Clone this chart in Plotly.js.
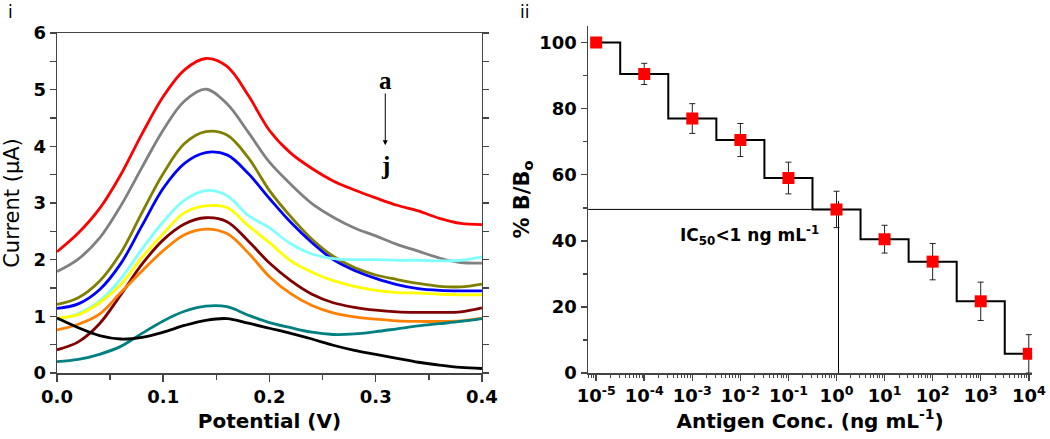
<!DOCTYPE html>
<html>
<head>
<meta charset="utf-8">
<script src="https://cdn.plot.ly/plotly-3.0.1.min.js"></script>
<style>
  html, body { margin: 0; padding: 0; background: #fff; }
  #graph { width: 1050px; height: 439px; }
</style>
</head>
<body>
<div id="graph"></div>
<script>
// panel i : DPV curves a..j
var potential = [0, 0.02, 0.04, 0.06, 0.08, 0.10, 0.12, 0.14, 0.16, 0.18, 0.20,
                 0.22, 0.24, 0.26, 0.28, 0.30, 0.32, 0.34, 0.36, 0.38, 0.40];
var curveA = [2.14, 2.47, 2.90, 3.50, 4.22, 4.88, 5.35, 5.55, 5.41, 4.90, 4.28, 3.88, 3.61, 3.39, 3.23, 3.09, 2.96, 2.86, 2.73, 2.64, 2.62];
var curveB = [1.79, 2.01, 2.38, 2.95, 3.63, 4.29, 4.80, 5.01, 4.75, 4.25, 3.72, 3.33, 2.99, 2.75, 2.56, 2.42, 2.27, 2.15, 2.03, 1.95, 1.94];
var curveC = [1.21, 1.33, 1.62, 2.12, 2.83, 3.52, 4.05, 4.26, 4.20, 3.80, 3.22, 2.76, 2.36, 2.06, 1.86, 1.73, 1.65, 1.58, 1.53, 1.52, 1.57];
var curveD = [1.14, 1.22, 1.47, 1.93, 2.60, 3.26, 3.70, 3.89, 3.85, 3.52, 3.08, 2.66, 2.30, 2.00, 1.81, 1.67, 1.56, 1.49, 1.46, 1.45, 1.45];
var curveE = [0.94, 1.05, 1.27, 1.66, 2.19, 2.67, 3.05, 3.22, 3.13, 2.78, 2.56, 2.28, 2.10, 2.02, 2.00, 2.00, 1.99, 1.99, 1.98, 1.99, 2.05];
var curveF = [0.97, 1.03, 1.24, 1.56, 2.04, 2.46, 2.83, 2.95, 2.92, 2.60, 2.30, 1.98, 1.78, 1.63, 1.53, 1.46, 1.42, 1.41, 1.39, 1.38, 1.38];
var curveG = [0.41, 0.55, 0.87, 1.38, 1.92, 2.35, 2.63, 2.74, 2.67, 2.33, 1.94, 1.63, 1.39, 1.24, 1.16, 1.11, 1.08, 1.07, 1.07, 1.08, 1.15];
var curveH = [0.76, 0.86, 1.04, 1.42, 1.80, 2.16, 2.44, 2.54, 2.46, 2.12, 1.70, 1.40, 1.19, 1.06, 0.99, 0.95, 0.92, 0.91, 0.91, 0.92, 0.97];
var curveI = [0.20, 0.24, 0.33, 0.47, 0.70, 0.92, 1.09, 1.18, 1.17, 1.02, 0.89, 0.80, 0.72, 0.68, 0.69, 0.73, 0.78, 0.83, 0.87, 0.91, 0.96];
var curveJ = [0.97, 0.80, 0.66, 0.60, 0.63, 0.72, 0.84, 0.93, 0.96, 0.88, 0.79, 0.70, 0.60, 0.49, 0.40, 0.33, 0.26, 0.19, 0.14, 0.10, 0.08];
var curves = [curveA, curveB, curveC, curveD, curveE, curveF, curveG, curveH, curveI, curveJ];
var curveColors = ['#ff0000', '#808080', '#808000', '#0000ff', '#80ffff',
                   '#ffff00', '#800000', '#ff8000', '#008080', '#000000'];

// panel ii : competitive assay
var conc = [1e-5, 1e-4, 1e-3, 1e-2, 1e-1, 1, 10, 100, 1000, 10000];
var pctB = [100, 90.5, 77, 70.5, 59, 49.5, 40.5, 33.7, 21.7, 5.8];
var pctErr = [0, 3.2, 4.5, 5, 4.8, 5.5, 4.2, 5.5, 5.8, 5.8];
var concTicks = [1e-5, 1e-4, 1e-3, 1e-2, 1e-1, 1, 10, 100, 1000, 10000];
var concLabels = ['10<sup>-5</sup>', '10<sup>-4</sup>', '10<sup>-3</sup>', '10<sup>-2</sup>', '10<sup>-1</sup>',
                  '10<sup>0</sup>', '10<sup>1</sup>', '10<sup>2</sup>', '10<sup>3</sup>', '10<sup>4</sup>'];
var ic50X = [6.8e-6, 1.1];
var ic50Y = [49.5, 49.5];
var ic50VX = [1.1, 1.1];
var ic50VY = [52, 0];

var FONT = 'DejaVu Sans';
var boldTick = {family: FONT, size: 18, color: '#000', weight: 'bold'};

var data = [];
for (var k = 0; k < curves.length; k++) {
  data.push({
    x: potential, y: curves[k], type: 'scatter', mode: 'lines',
    line: {color: curveColors[k], width: 2.8, shape: 'spline', smoothing: 1},
    xaxis: 'x', yaxis: 'y', hoverinfo: 'skip'
  });
}

data.push({
  x: ic50X, y: ic50Y, type: 'scatter', mode: 'lines',
  line: {color: '#000', width: 1}, xaxis: 'x2', yaxis: 'y2'
});
data.push({
  x: ic50VX, y: ic50VY, type: 'scatter', mode: 'lines',
  line: {color: '#000', width: 1}, xaxis: 'x2', yaxis: 'y2'
});
data.push({
  x: conc, y: pctB, type: 'scatter', mode: 'lines',
  line: {color: '#000', width: 2, shape: 'hvh'}, xaxis: 'x2', yaxis: 'y2'
});
data.push({
  x: conc, y: pctB, type: 'scatter', mode: 'markers',
  marker: {color: '#ff0000', size: 12, symbol: 'square'},
  error_y: {type: 'data', array: pctErr, visible: true, color: '#222', thickness: 1, width: 3},
  xaxis: 'x2', yaxis: 'y2'
});

var layout = {
  width: 1050, height: 439,
  margin: {l: 0, r: 0, t: 0, b: 0},
  paper_bgcolor: '#fff', plot_bgcolor: '#fff',
  showlegend: false,
  font: {family: FONT, color: '#000'},
  xaxis: {
    domain: [0.0543, 0.459], range: [0, 0.4],
    dtick: 0.1, tickformat: '.1f', ticks: 'outside', ticklen: 7, tickwidth: 1.5,
    minor: {dtick: 0.05, ticks: 'outside', ticklen: 5, tickwidth: 1.5},
    showline: true, linecolor: '#444', linewidth: 1.5, mirror: true,
    showgrid: false, zeroline: false, tickfont: boldTick,
    title: {text: 'Potential (V)', font: {family: FONT, size: 20, weight: 'bold'}, standoff: 8}
  },
  xaxis3: {
    overlaying: 'x', side: 'top', anchor: 'y', range: [0, 0.4],
    dtick: 0.05, ticks: 'inside', ticklen: 5, tickwidth: 1.5,
    showticklabels: false, showline: false, showgrid: false, zeroline: false
  },
  yaxis: {
    domain: [0.1503, 0.9248], range: [0, 6],
    dtick: 1, ticks: 'outside', ticklen: 6, tickwidth: 1.5,
    minor: {dtick: 0.5, ticks: 'outside', ticklen: 6, tickwidth: 1.5},
    showline: true, linecolor: '#444', linewidth: 1.5, mirror: 'allticks',
    showgrid: false, zeroline: false, tickfont: boldTick,
    title: {text: 'Current (\u00b5A)', font: {family: FONT, size: 21}, standoff: 9}
  },
  xaxis2: {
    domain: [0.56, 0.983], type: 'log', range: [-5.17, 4.07], anchor: 'y2',
    tickmode: 'array', tickvals: concTicks, ticktext: concLabels,
    ticks: 'outside', ticklen: 6, tickwidth: 1.5,
    minor: {dtick: 'D1', ticks: 'outside', ticklen: 3, tickwidth: 1},
    showline: true, linecolor: '#444', linewidth: 1.5,
    showgrid: false, zeroline: false, tickfont: boldTick,
    title: {text: 'Antigen Conc. (ng mL<sup>-1</sup>)', font: {family: FONT, size: 20, weight: 'bold'}, standoff: 6}
  },
  yaxis2: {
    domain: [0.1503, 0.9408], range: [0, 105], anchor: 'x2',
    dtick: 20, ticks: 'outside', ticklen: 6, tickwidth: 1.5,
    minor: {dtick: 10, ticks: 'outside', ticklen: 4, tickwidth: 1.5},
    showline: true, linecolor: '#444', linewidth: 1.5,
    showgrid: false, zeroline: false, tickfont: boldTick,
    title: {text: '% B/B<sub>o</sub>', font: {family: FONT, size: 21, weight: 'bold'}, standoff: 4}
  },
  annotations: [
    {xref: 'paper', yref: 'paper', x: 10 / 1050, y: 1, xanchor: 'center', yanchor: 'top',
     text: 'i', showarrow: false, font: {family: FONT, size: 17}},
    {xref: 'paper', yref: 'paper', x: 524 / 1050, y: 1, xanchor: 'center', yanchor: 'top',
     text: 'ii', showarrow: false, font: {family: FONT, size: 17}},
    {xref: 'x', yref: 'y', x: 0.309, y: 5.17, text: 'a', showarrow: false,
     font: {family: 'Liberation Serif', size: 25, weight: 'bold'}},
    {xref: 'x', yref: 'y', x: 0.309, y: 3.67, text: 'j', showarrow: false,
     font: {family: 'Liberation Serif', size: 25, weight: 'bold'}},
    {xref: 'x', yref: 'y', axref: 'x', ayref: 'y', x: 0.309, y: 4.02, ax: 0.309, ay: 4.96,
     text: '', showarrow: true, arrowhead: 2, arrowsize: 1, arrowwidth: 1, arrowcolor: '#000'},
    {xref: 'x2', yref: 'y2', x: -1.8, y: 41.7, text: 'IC<sub>50</sub><1 ng mL<sup>-1</sup>', showarrow: false,
     font: {family: FONT, size: 17, weight: 'bold'}}
  ]
};

Plotly.newPlot('graph', data, layout, {staticPlot: true});
</script>
</body>
</html>
